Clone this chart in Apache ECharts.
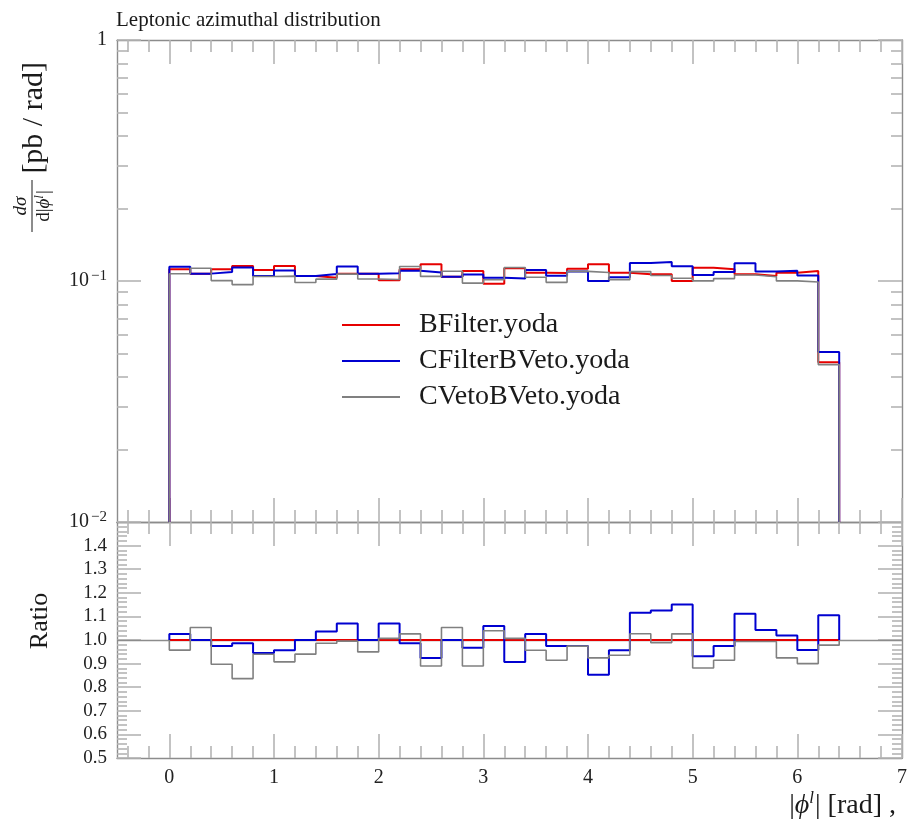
<!DOCTYPE html>
<html>
<head>
<meta charset="utf-8">
<script src="https://cdn.jsdelivr.net/npm/echarts@6/dist/echarts.min.js"></script>
<style>
html, body { margin: 0; padding: 0; background: #ffffff; }
#chart { width: 910px; height: 828px; }
</style>
</head>
<body>
<div id="chart"></div>
<script>
// Histogram bin edges in |phi^l| [rad]
const binEdges = [0.0, 0.2, 0.4, 0.6, 0.8, 1.0, 1.2, 1.4, 1.6, 1.8, 2.0, 2.2, 2.4, 2.6, 2.8, 3.0,
                  3.2, 3.4, 3.6, 3.8, 4.0, 4.2, 4.4, 4.6, 4.8, 5.0, 5.2, 5.4, 5.6, 5.8, 6.0, 6.2, 6.4];

// dsigma/d|phi^l| [pb / rad], one value per bin
const bFilter = [0.1119, 0.1073, 0.1119, 0.1155, 0.1111, 0.1155, 0.1049, 0.1032, 0.1073, 0.1073, 0.1007,
                 0.1119, 0.1174, 0.1042, 0.1101, 0.0974, 0.1130, 0.1083, 0.1080, 0.1125, 0.1174, 0.1083,
                 0.1066, 0.1066, 0.1000, 0.1136, 0.1119, 0.1066, 0.1049, 0.1083, 0.1101, 0.0460];
const cFilterBVeto = [0.1147, 0.1073, 0.1090, 0.1139, 0.1050, 0.1105, 0.1049, 0.1069, 0.1148, 0.1073, 0.1077,
                      0.1103, 0.1085, 0.1042, 0.1065, 0.1032, 0.1025, 0.1111, 0.1052, 0.1096, 0.1001, 0.1036,
                      0.1189, 0.1199, 0.1150, 0.1058, 0.1090, 0.1185, 0.1094, 0.1104, 0.1054, 0.0508];
const cVetoBVeto = [0.1071, 0.1130, 0.1004, 0.0966, 0.1044, 0.1048, 0.0986, 0.1018, 0.1068, 0.1019, 0.1014,
                    0.1148, 0.1045, 0.1097, 0.0980, 0.1012, 0.1138, 0.1036, 0.0987, 0.1096, 0.1085, 0.1013,
                    0.1094, 0.1054, 0.1026, 0.1001, 0.1023, 0.1059, 0.1042, 0.1001, 0.0991, 0.0450];

const seriesNames = ['BFilter.yoda', 'CFilterBVeto.yoda', 'CVetoBVeto.yoda'];
const seriesColors = ['#e60000', '#0000d0', '#808080'];

// Tick labels
const xTickValues = [0, 1, 2, 3, 4, 5, 6, 7];
const xTickLabels = ['0', '1', '2', '3', '4', '5', '6', '7'];
const logTickValues = [0.01, 0.1, 1];
const ratioTickValues = [0.5, 0.6, 0.7, 0.8, 0.9, 1.0, 1.1, 1.2, 1.3, 1.4];
const ratioTickLabels = ['0.5', '0.6', '0.7', '0.8', '0.9', '1.0', '1.1', '1.2', '1.3', '1.4'];

const SERIF = '"Liberation Serif", "DejaVu Serif", serif';
const FRAME = '#8c8c8c';
const TICK = '#b4b4b4';

// minor tick positions
const xMinor = [];
for (let k = -2; k <= 34; k++) { if (k % 5 !== 0) xMinor.push(+(k * 0.2).toFixed(1)); }
const logMinor = [];
[0.01, 0.1].forEach(d => { for (let m = 2; m <= 9; m++) logMinor.push(+(m * d).toPrecision(2)); });
const ratioMinor = [];
for (let k = 26; k <= 74; k++) { if (k % 5 !== 0) ratioMinor.push(+(k * 0.02).toFixed(2)); }

const GRID_TOP = { left: 117, top: 40, width: 785, height: 482 };
const GRID_RATIO = { left: 117, top: 522, width: 785, height: 236 };

function xAxis(gridIndex, position, ticks, len, major, labels) {
  return {
    type: 'value', gridIndex, position, min: -0.5, max: 7,
    axisLine: { show: major, onZero: false, lineStyle: { color: FRAME, width: 1.4 } },
    axisTick: { show: true, inside: true, length: len, customValues: ticks, lineStyle: { color: TICK, width: 1.6 } },
    axisLabel: labels ? {
      show: true, customValues: xTickValues, margin: 10,
      fontFamily: SERIF, fontSize: 20, color: '#222',
      formatter: v => xTickLabels[xTickValues.indexOf(Math.round(v))]
    } : { show: false },
    splitLine: { show: false }
  };
}

function logAxis(position, ticks, len, major, labels) {
  return {
    type: 'log', logBase: 10, gridIndex: 0, position, min: 0.01, max: 1,
    axisLine: { show: major, onZero: false, lineStyle: { color: FRAME, width: 1.4 } },
    axisTick: { show: true, inside: true, length: len, customValues: ticks, lineStyle: { color: TICK, width: 1.6 } },
    axisLabel: labels ? {
      show: true, customValues: logTickValues, margin: 10, color: '#222',
      fontFamily: SERIF, fontSize: 20,
      formatter: v => {
        const e = Math.round(Math.log10(v));
        return e === 0 ? '{b|1}' : '{b|10}{s|\u2212' + Math.abs(e) + '}';
      },
      rich: {
        b: { fontFamily: SERIF, fontSize: 20, color: '#222' },
        s: { fontFamily: SERIF, fontSize: 15, color: '#222', padding: [0, 0, 10, 2] }
      }
    } : { show: false },
    splitLine: { show: false }
  };
}

function ratioAxis(position, ticks, len, major, labels) {
  return {
    type: 'value', gridIndex: 1, position, min: 0.5, max: 1.5,
    axisLine: { show: major, onZero: false, lineStyle: { color: FRAME, width: 1.4 } },
    axisTick: { show: true, inside: true, length: len, customValues: ticks, lineStyle: { color: TICK, width: 1.6 } },
    axisLabel: labels ? {
      show: true, customValues: ratioTickValues, margin: 10,
      fontFamily: SERIF, fontSize: 19, color: '#222',
      formatter: v => ratioTickLabels[Math.round((v - 0.5) * 10)]
    } : { show: false },
    splitLine: { show: false }
  };
}

// histogram outline: drops to the given floor at both ends
function histPoints(values, floor) {
  const last = binEdges.length - 1;
  const pts = [[binEdges[0], floor]];
  values.forEach((v, i) => pts.push([binEdges[i], v]));
  pts.push([binEdges[last], values[values.length - 1]]);
  pts.push([binEdges[last], floor]);
  return pts;
}

const mainData = [bFilter, cFilterBVeto, cVetoBVeto];
const ratioData = mainData.map(arr => arr.map((v, i) => v / bFilter[i]));

const series = [];
mainData.forEach((arr, k) => {
  series.push({
    name: seriesNames[k], type: 'line', xAxisIndex: 0, yAxisIndex: 0,
    step: 'end', symbol: 'none', clip: true,
    lineStyle: { color: seriesColors[k], width: k === 2 ? 1.6 : 2 },
    itemStyle: { color: seriesColors[k] },
    data: histPoints(arr, 0.01)
  });
});
// reference line at ratio 1, drawn underneath the ratio curves
series.push({
  name: 'reference', type: 'line', xAxisIndex: 4, yAxisIndex: 4, data: [], z: 1,
  markLine: {
    silent: true, symbol: 'none', label: { show: false }, z: 1,
    lineStyle: { color: '#8c8c8c', width: 1.3, type: 'solid' },
    data: [{ yAxis: 1 }]
  }
});
ratioData.forEach((arr, k) => {
  series.push({
    name: seriesNames[k], type: 'line', xAxisIndex: 4, yAxisIndex: 4,
    step: 'end', symbol: 'none', clip: true, z: 3,
    lineStyle: { color: seriesColors[k], width: k === 2 ? 1.6 : 2 },
    itemStyle: { color: seriesColors[k] },
    data: histPoints(arr, 1)
  });
});

const option = {
  backgroundColor: '#ffffff',
  animation: false,
  grid: [GRID_TOP, GRID_RATIO],
  xAxis: [
    xAxis(0, 'bottom', xTickValues, 24, true, false),
    xAxis(0, 'bottom', xMinor, 12, false, false),
    xAxis(0, 'top', xTickValues, 24, true, false),
    xAxis(0, 'top', xMinor, 12, false, false),
    xAxis(1, 'bottom', xTickValues, 24, true, true),
    xAxis(1, 'bottom', xMinor, 12, false, false),
    xAxis(1, 'top', xTickValues, 24, true, false),
    xAxis(1, 'top', xMinor, 12, false, false)
  ],
  yAxis: [
    logAxis('left', logTickValues, 24, true, true),
    logAxis('left', logMinor, 11, false, false),
    logAxis('right', logTickValues, 24, true, false),
    logAxis('right', logMinor, 11, false, false),
    ratioAxis('left', ratioTickValues, 24, true, true),
    ratioAxis('left', ratioMinor, 10, false, false),
    ratioAxis('right', ratioTickValues, 24, true, false),
    ratioAxis('right', ratioMinor, 10, false, false)
  ],
  legend: {
    data: seriesNames, orient: 'vertical', left: 337, top: 306,
    icon: 'rect', itemWidth: 58, itemHeight: 2, itemGap: 8,
    selectedMode: false,
    textStyle: { fontFamily: SERIF, fontSize: 28, color: '#1a1a1a', padding: [0, 0, 0, 14] }
  },
  graphic: [
    { type: 'text', x: 116, y: 20,
      style: { text: 'Leptonic azimuthal distribution', font: '21px ' + SERIF, fill: '#1a1a1a', verticalAlign: 'middle' } },
    // y-axis title of the upper panel, reading upward
    { type: 'text', x: 34, y: 62, rotation: Math.PI / 2,
      style: { text: '[pb / rad]', font: '30px ' + SERIF, fill: '#1a1a1a', align: 'right', verticalAlign: 'middle' } },
    { type: 'text', x: 21, y: 206, rotation: Math.PI / 2,
      style: { text: 'd\u03c3', font: 'italic 19px ' + SERIF, fill: '#1a1a1a', align: 'center', verticalAlign: 'middle' } },
    { type: 'line', shape: { x1: 32, y1: 180, x2: 32, y2: 232 }, style: { stroke: '#1a1a1a', lineWidth: 1 } },
    { type: 'text', x: 44, y: 206, rotation: Math.PI / 2,
      style: {
        text: '{r|d|}{i|\u03d5}{s|l}{r||}',
        align: 'center', verticalAlign: 'middle',
        rich: {
          r: { font: '19px ' + SERIF, fill: '#1a1a1a' },
          i: { font: 'italic 19px ' + SERIF, fill: '#1a1a1a' },
          s: { font: 'italic 13px ' + SERIF, fill: '#1a1a1a', padding: [0, 1, 8, 0] }
        }
      } },
    // y-axis title of the ratio panel
    { type: 'text', x: 40, y: 621, rotation: Math.PI / 2,
      style: { text: 'Ratio', font: '26px ' + SERIF, fill: '#1a1a1a', align: 'center', verticalAlign: 'middle' } },
    // x-axis title
    { type: 'text', x: 896, y: 806,
      style: {
        text: '{r||}{i|\u03d5}{s|l}{r|| [rad] ,}',
        align: 'right', verticalAlign: 'middle',
        rich: {
          r: { font: '28px ' + SERIF, fill: '#1a1a1a' },
          i: { font: 'italic 28px ' + SERIF, fill: '#1a1a1a' },
          s: { font: 'italic 17px ' + SERIF, fill: '#1a1a1a', padding: [0, 1, 14, 0] }
        }
      } }
  ],
  series
};

const chart = echarts.init(document.getElementById('chart'), null, { renderer: 'canvas' });
chart.setOption(option);
</script>
</body>
</html>
